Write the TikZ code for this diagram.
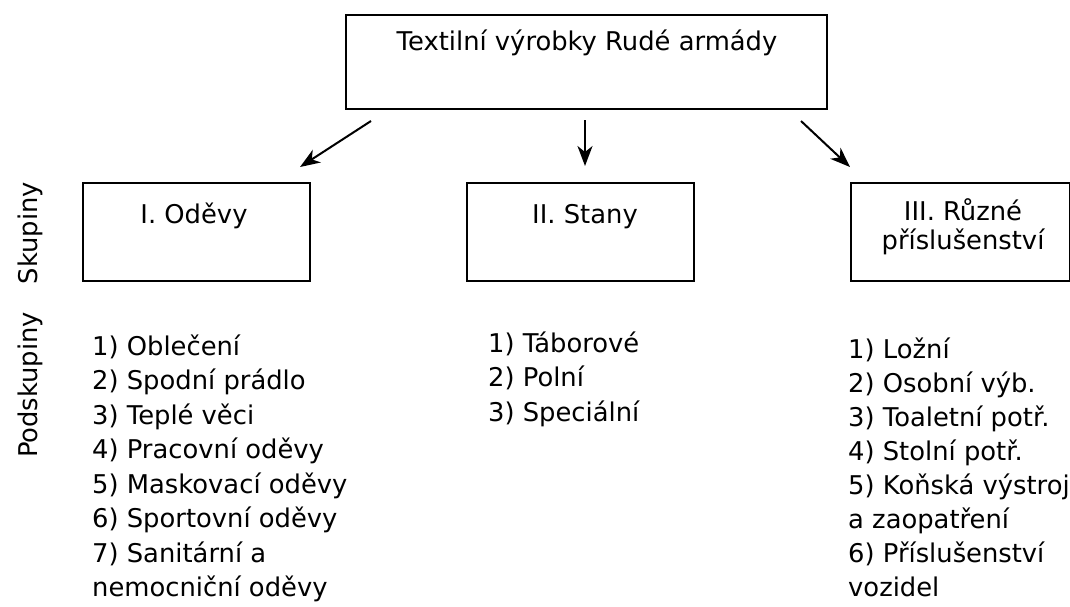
\documentclass[tikz,border=0pt]{standalone}
\usepackage{fontspec}
\setmainfont{DejaVu Sans}
\usetikzlibrary{arrows.meta}
\begin{document}
\begin{tikzpicture}[x=1pt,y=-1pt,
  box/.style={draw,line width=1.7pt,inner sep=0pt,anchor=north west},
  lbl/.style={font=\fontsize{25.8}{31}\selectfont,inner sep=0pt},
  arr/.style={line width=2pt,-{Stealth[length=20pt,width=15pt,inset=6pt]}}]
\useasboundingbox (0,0) rectangle (1070,606);
% boxes
\node[box,minimum width=481,minimum height=94] (top) at (345,14) {};
\node[box,minimum width=227,minimum height=98] (g1) at (82,182) {};
\node[box,minimum width=227,minimum height=98] (g2) at (466,182) {};
\node[box,minimum width=219,minimum height=98] (g3) at (850,182) {};
% box texts
\node[lbl,anchor=base] (toptxt) at (587,50) {Textilní výrobky Rudé armády};
\node[lbl,anchor=base] (g1txt) at (194,223) {I. Oděvy};
\node[lbl,anchor=base] (g2txt) at (585,223) {II. Stany};
\node[lbl,anchor=base] (g3txta) at (963,220) {III. Různé};
\node[lbl,anchor=base] (g3txtb) at (963,249) {příslušenství};
% side labels
\node[lbl,rotate=90] (sk) at (30,233) {Skupiny};
\node[lbl,rotate=90] (psk) at (30,385) {Podskupiny};
% arrows
\coordinate (a1s) at (371,121); \coordinate (a1e) at (300,167);
\coordinate (a2s) at (585,120); \coordinate (a2e) at (585,166);
\coordinate (a3s) at (801,121); \coordinate (a3e) at (850,167);
\draw[arr] (a1s) -- (a1e);
\draw[arr] (a2s) -- (a2e);
\draw[arr] (a3s) -- (a3e);
% lists
\foreach \t [count=\i] in {1) Oblečení,2) Spodní prádlo,3) Teplé věci,4) Pracovní oděvy,5) Maskovací oděvy,6) Sportovní oděvy,7) Sanitární a,nemocniční oděvy}
  \node[lbl,anchor=base west] (la\i) at (92,{355+34.5*(\i-1)}) {\t};
\foreach \t [count=\i] in {1) Táborové,2) Polní,3) Speciální}
  \node[lbl,anchor=base west] (lb\i) at (488,{352+34.5*(\i-1)}) {\t};
\foreach \t [count=\i] in {1) Ložní,2) Osobní výb.,3) Toaletní potř.,4) Stolní potř.,5) Koňská výstroj,a zaopatření,6) Příslušenství,vozidel}
  \node[lbl,anchor=base west] (lc\i) at (848,{358+34*(\i-1)}) {\t};
\end{tikzpicture}
\end{document}
